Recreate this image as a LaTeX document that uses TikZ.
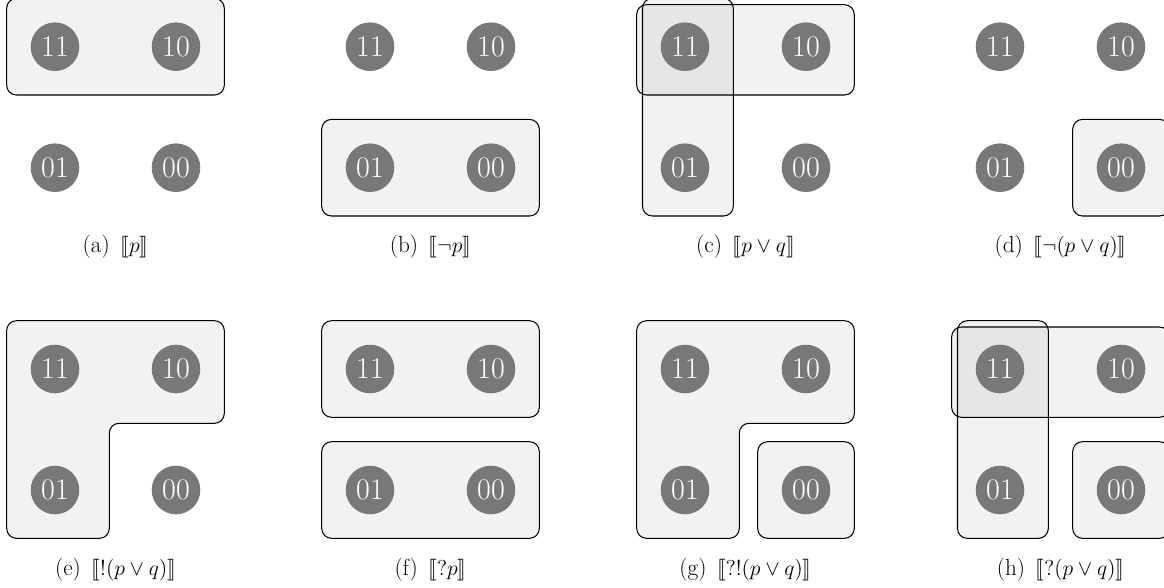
\documentclass[tikz,border=0pt]{standalone}
\usepackage{stmaryrd}
\definecolor{stategray}{RGB}{120,120,120}
\tikzset{
  state/.style={circle, fill=stategray, text=white, minimum size=32.4pt, inner sep=0pt,
                font=\fontsize{20}{20}\selectfont},
  region/.style={draw=black, line width=0.7pt, fill=black, fill opacity=0.05, rounded corners=6.5pt},
  captext/.style={inner sep=0pt, font=\fontsize{15.5}{18}\selectfont},
}
\newcommand\mystates[1]{%
  \node[state] (#1-11) at (0,0) {11};
  \node[state] (#1-10) at (121,0) {10};
  \node[state] (#1-01) at (0,121) {01};
  \node[state] (#1-00) at (121,121) {00};
}
\newcommand\capgap{\hspace{7pt}}
\begin{document}
\begin{tikzpicture}[x=0.66667pt, y=-0.66667pt]
\useasboundingbox (0,0) rectangle (1164,588);
% (a)
\begin{scope}[shift={(55,46.7)}]
  \draw[region] (-48.3,-48.3) rectangle (169.3,48.3);
  \mystates{a}
  \node[captext] (a-cap) at (60.5,200) {(a)\capgap$\llbracket p\rrbracket$};
\end{scope}
% (b)
\begin{scope}[shift={(370,46.7)}]
  \draw[region] (-48.3,72.7) rectangle (169.3,169.3);
  \mystates{b}
  \node[captext] (b-cap) at (60.5,200) {(b)\capgap$\llbracket \neg p\rrbracket$};
\end{scope}
% (c)
\begin{scope}[shift={(685,46.7)}]
  \draw[region] (-48.3,-42) rectangle (169.3,48.3);
  \draw[region] (-42.5,-48.3) rectangle (48.3,169.3);
  \mystates{c}
  \node[captext] (c-cap) at (60.5,200) {(c)\capgap$\llbracket p\vee q\rrbracket$};
\end{scope}
% (d)
\begin{scope}[shift={(1000,46.7)}]
  \draw[region] (72.7,72.7) rectangle (169.3,169.3);
  \mystates{d}
  \node[captext] (d-cap) at (60.5,200) {(d)\capgap$\llbracket \neg(p\vee q)\rrbracket$};
\end{scope}
% (e)
\begin{scope}[shift={(55,369)}]
  \draw[region] (-48.3,-48.3) -- (169.3,-48.3) -- (169.3,54.3) -- (54.3,54.3) -- (54.3,169.3) -- (-48.3,169.3) -- cycle;
  \mystates{e}
  \node[captext] (e-cap) at (60.5,200.5) {(e)\capgap$\llbracket !(p\vee q)\rrbracket$};
\end{scope}
% (f)
\begin{scope}[shift={(370,369)}]
  \draw[region] (-48.3,-48.3) rectangle (169.3,48.3);
  \draw[region] (-48.3,72.7) rectangle (169.3,169.3);
  \mystates{f}
  \node[captext] (f-cap) at (60.5,200.5) {(f)\capgap$\llbracket ?p\rrbracket$};
\end{scope}
% (g)
\begin{scope}[shift={(685,369)}]
  \draw[region] (-48.3,-48.3) -- (169.3,-48.3) -- (169.3,54.3) -- (54.3,54.3) -- (54.3,169.3) -- (-48.3,169.3) -- cycle;
  \draw[region] (72.7,72.7) rectangle (169.3,169.3);
  \mystates{g}
  \node[captext] (g-cap) at (60.5,200.5) {(g)\capgap$\llbracket ?!(p\vee q)\rrbracket$};
\end{scope}
% (h)
\begin{scope}[shift={(1000,369)}]
  \draw[region] (-48.3,-42) rectangle (169.3,48.3);
  \draw[region] (-42.5,-48.3) rectangle (48.3,169.3);
  \draw[region] (72.7,72.7) rectangle (169.3,169.3);
  \mystates{h}
  \node[captext] (h-cap) at (60.5,200.5) {(h)\capgap$\llbracket ?(p\vee q)\rrbracket$};
\end{scope}
\end{tikzpicture}
\end{document}
